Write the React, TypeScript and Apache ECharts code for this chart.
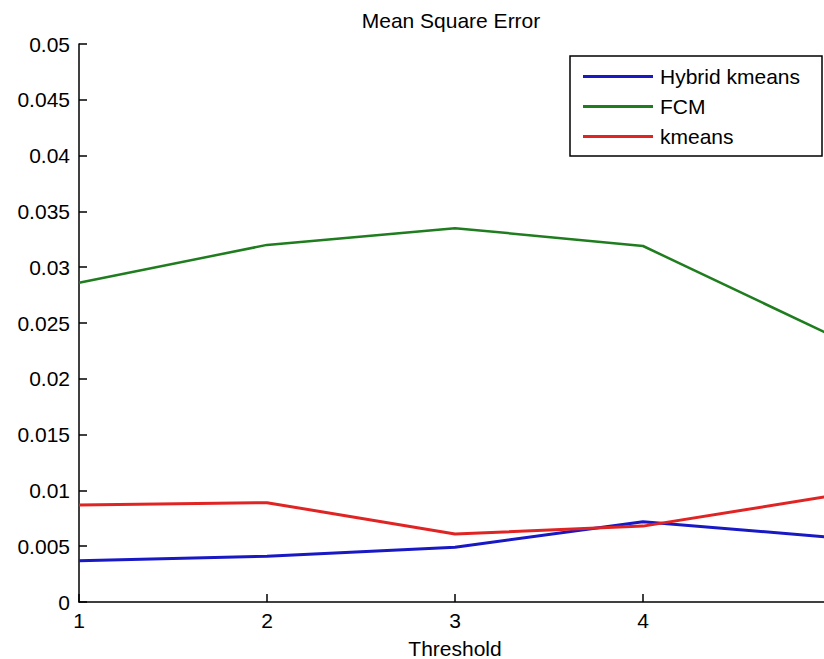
import React, { useEffect, useRef } from "react";
import * as echarts from "echarts";

const thresholds = [1, 2, 3, 4, 5];
const hybridKmeans = [0.0037, 0.0041, 0.0049, 0.0072, 0.0058];
const fcm = [0.0286, 0.032, 0.0335, 0.0319, 0.0239];
const kmeans = [0.0087, 0.0089, 0.0061, 0.0068, 0.0095];
const seriesNames = ["Hybrid kmeans", "FCM", "kmeans"];
const seriesColors = ["#1818c4", "#1f7d1f", "#e02424"];
const chartTitle = "Mean Square Error";
const xAxisName = "Threshold";

const FONT = "'Liberation Sans', Arial, sans-serif";
const FS = 21;

export default function App() {
  const ref = useRef<HTMLDivElement>(null);
  useEffect(() => {
    const chart = echarts.init(ref.current!, null, { renderer: "svg" });
    const values = [hybridKmeans, fcm, kmeans];
    chart.setOption({
      animation: false,
      backgroundColor: "#ffffff",
      textStyle: { fontFamily: FONT },
      grid: {
        left: 79,
        top: 44,
        bottom: 57,
        right: -7,
        containLabel: false,
        outerBoundsMode: "none",
      },
      xAxis: {
        type: "value",
        min: 1,
        max: 5,
        interval: 1,
        name: xAxisName,
        nameLocation: "middle",
        nameGap: 36,
        nameTextStyle: { fontSize: FS, color: "#000", fontFamily: FONT },
        axisLine: { onZero: false, lineStyle: { color: "#000", width: 1.5 } },
        axisTick: { inside: true, length: 8, lineStyle: { color: "#000", width: 1.5 } },
        axisLabel: {
          fontSize: FS,
          color: "#000",
          margin: 8,
          fontFamily: FONT,
          showMaxLabel: false,
        },
        splitLine: { show: false },
      },
      yAxis: {
        type: "value",
        min: 0,
        max: 0.05,
        interval: 0.005,
        axisLine: { show: true, lineStyle: { color: "#000", width: 1.5 } },
        axisTick: { show: true, inside: true, length: 8, lineStyle: { color: "#000", width: 1.5 } },
        axisLabel: {
          fontSize: FS,
          color: "#000",
          margin: 9,
          fontFamily: FONT,
          formatter: (v: number) => String(+v.toFixed(3)),
        },
        splitLine: { show: false },
      },
      legend: {
        orient: "vertical",
        left: 583,
        top: 66,
        padding: 0,
        itemWidth: 70,
        itemHeight: 3,
        itemGap: 9,
        icon: "rect",
        textStyle: { fontSize: FS, color: "#000", fontFamily: FONT, padding: [0, 0, 0, 2] },
        data: seriesNames,
      },
      graphic: [
        {
          type: "rect",
          z: -1,
          shape: { x: 570, y: 56, width: 252, height: 100 },
          style: { fill: "#fff", stroke: "#000", lineWidth: 1.5 },
          silent: true,
        },
        {
          type: "text",
          x: 451,
          y: 20,
          style: {
            text: chartTitle,
            font: `${FS}px ${FONT}`,
            fill: "#000",
            textAlign: "center",
            textVerticalAlign: "middle",
          },
        },
      ],
      series: seriesNames.map((name, i) => ({
        name,
        type: "line",
        symbol: "none",
        color: seriesColors[i],
        lineStyle: { width: i === 1 ? 2.5 : 3, color: seriesColors[i] },
        data: thresholds.map((t, j) => [t, values[i][j]]),
      })),
    });
    return () => chart.dispose();
  }, []);
  return (
    <div
      ref={ref}
      style={{ position: "fixed", left: 0, top: 0, width: 824, height: 659 }}
    />
  );
}
